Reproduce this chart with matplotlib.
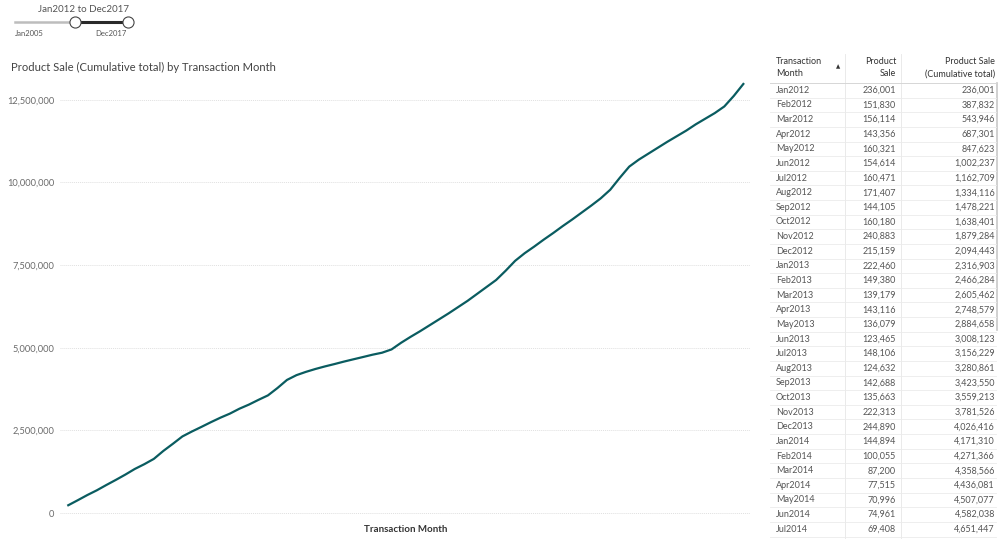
import matplotlib.pyplot as plt
import pandas as pd
from matplotlib.lines import Line2D

plt.rcParams['font.family'] = ['Lato', 'DejaVu Sans']

# monthly data Jan2012 - Dec2017
months = pd.date_range('2012-01-01', '2017-12-01', freq='MS').strftime('%b%Y').tolist()
table_sales = [236001, 151830, 156114, 143356, 160321, 154614, 160471, 171407, 144105, 160180,
               240883, 215159, 222460, 149380, 139179, 143116, 136079, 123465, 148106, 124632,
               142688, 135663, 222313, 244890, 144894, 100055, 87200, 77515, 70996, 74961, 69408]
cumulative = [236001, 387832, 543946, 687301, 847623, 1002237, 1162709, 1334116, 1478221, 1638401,
              1879284, 2094443, 2316903, 2466284, 2605462, 2748579, 2884658, 3008123, 3156229, 3280861,
              3423550, 3559213, 3781526, 4026416, 4171310, 4271366, 4358566, 4436081, 4507077, 4582038,
              4651447, 4720000, 4790000, 4850000, 4950000, 5150000, 5330000, 5500000, 5680000, 5860000,
              6040000, 6230000, 6420000, 6630000, 6840000, 7050000, 7330000, 7630000, 7860000, 8060000,
              8270000, 8470000, 8680000, 8880000, 9090000, 9300000, 9520000, 9780000, 10140000, 10480000,
              10690000, 10870000, 11050000, 11230000, 11400000, 11570000, 11760000, 11930000, 12100000,
              12300000, 12620000, 12980000]
yticks = [0, 2500000, 5000000, 7500000, 10000000, 12500000]

W, H = 999, 539
fig = plt.figure(figsize=(W / 100, H / 100), dpi=100)


def fx(x):
    return x / W


def fy(y):
    return 1 - y / H


ax = fig.add_axes([fx(60), fy(518), fx(750) - fx(60), fy(80) - fy(518)])
ax.plot(range(len(cumulative)), cumulative, color='#0a5c60', linewidth=1.6)
ax.set_xlim(-0.87, 71.7)
ax.set_ylim(-150000, 13100000)
ax.set_yticks(yticks)
ax.set_yticklabels([f'{v:,}' for v in yticks])
ax.set_xticks([])
ax.tick_params(axis='y', length=0, pad=4, labelsize=6.7, labelcolor='#6a6a6a')
for s in ax.spines.values():
    s.set_visible(False)
ax.grid(axis='y', color='#e0e0e0', linestyle=(0, (1, 1)), linewidth=0.7)
ax.set_axisbelow(True)

fig.text(fx(406), fy(529), 'Transaction Month', ha='center', va='center',
         fontsize=7, fontweight='bold', color='#333333')
fig.text(fx(11), fy(67), 'Product Sale (Cumulative total) by Transaction Month',
         ha='left', va='center', fontsize=8.1, color='#444444')

# slider
fig.text(fx(83), fy(9), 'Jan2012 to Dec2017', ha='center', va='center', fontsize=7, color='#555555')
fig.add_artist(Line2D([fx(15), fx(75)], [fy(22), fy(22)], color='#bdbdbd', linewidth=1.8))
fig.add_artist(Line2D([fx(75), fx(128)], [fy(22), fy(22)], color='#2a2a2a', linewidth=2.2))
for xc in (75, 128):
    fig.add_artist(Line2D([fx(xc)], [fy(22)], marker='o', markersize=8,
                          markerfacecolor='white', markeredgecolor='#444444', markeredgewidth=0.8))
fig.text(fx(29), fy(33), 'Jan2005', ha='center', va='center', fontsize=5.5, color='#555555')
fig.text(fx(111), fy(33), 'Dec2017', ha='center', va='center', fontsize=5.5, color='#555555')

# table
tx0, tx1 = 770, 996
c1, c2 = 845, 901
fig.text(fx(776), fy(61), 'Transaction', ha='left', va='center', fontsize=6.5, color='#333333')
fig.text(fx(776), fy(74), 'Month', ha='left', va='center', fontsize=6.5, color='#333333')
fig.text(fx(838), fy(67), '▲', ha='center', va='center', fontsize=4, color='#333333',
         family=['DejaVu Sans'])
fig.text(fx(896), fy(61), 'Product', ha='right', va='center', fontsize=6.5, color='#333333')
fig.text(fx(896), fy(74), 'Sale', ha='right', va='center', fontsize=6.5, color='#333333')
fig.text(fx(995), fy(61), 'Product Sale', ha='right', va='center', fontsize=6.5, color='#333333')
fig.text(fx(995), fy(74), '(Cumulative total)', ha='right', va='center', fontsize=6.5, color='#333333')
fig.add_artist(Line2D([fx(c1), fx(c1)], [fy(54), fy(539)], color='#e6e6e6', linewidth=0.6))
fig.add_artist(Line2D([fx(c2), fx(c2)], [fy(54), fy(539)], color='#e6e6e6', linewidth=0.6))
fig.add_artist(Line2D([fx(997), fx(997)], [fy(83), fy(330)], color='#c8c8c8', linewidth=1.2))

row_h = 14.63
top = 83
fig.add_artist(Line2D([fx(tx0), fx(tx1)], [fy(top), fy(top)], color='#d6d6d6', linewidth=0.7))
for i, (m, s, c) in enumerate(zip(months, table_sales, cumulative)):
    yc = top + row_h * (i + 0.5)
    fig.text(fx(776), fy(yc), m, ha='left', va='center', fontsize=6.5, color='#555555')
    fig.text(fx(896), fy(yc), f'{s:,}', ha='right', va='center', fontsize=6.5, color='#555555')
    fig.text(fx(995), fy(yc), f'{c:,}', ha='right', va='center', fontsize=6.5, color='#555555')
    yl = top + row_h * (i + 1)
    fig.add_artist(Line2D([fx(tx0), fx(tx1)], [fy(yl), fy(yl)], color='#ebebeb', linewidth=0.6))

fig.savefig('out.png', dpi=100)
